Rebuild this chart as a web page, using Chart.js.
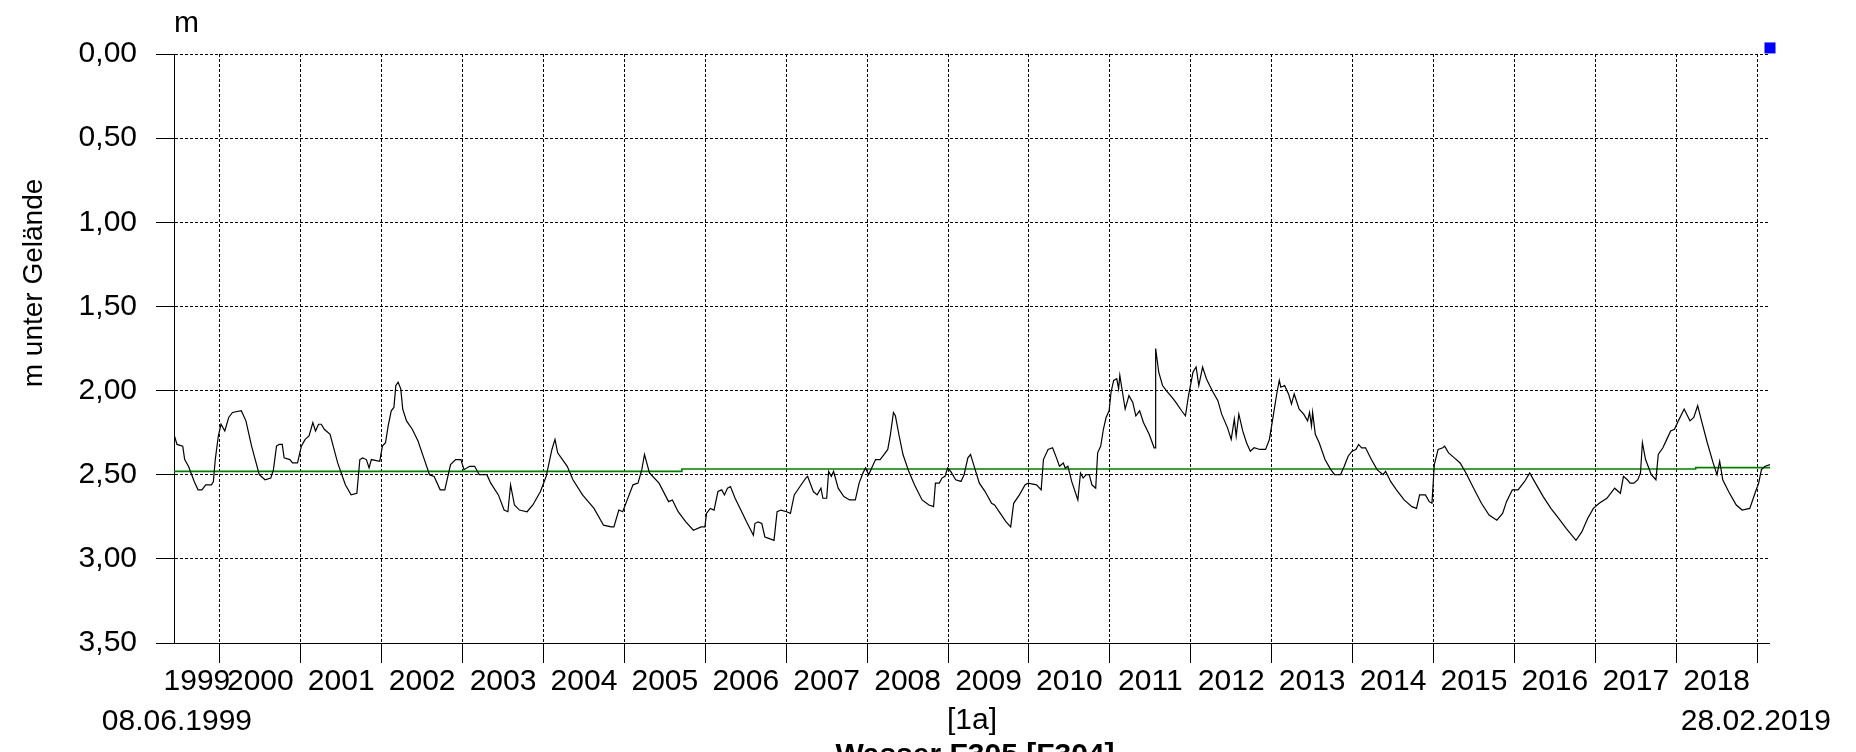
<!DOCTYPE html>
<html>
<head>
<meta charset="utf-8">
<script src="https://cdn.jsdelivr.net/npm/chart.js@4.4.1/dist/chart.umd.min.js"></script>
<style>
  html, body { margin: 0; padding: 0; background: #fff; }
  canvas { display: block; }
</style>
</head>
<body>
<canvas id="c" width="1856" height="752"></canvas>
<script>
// ---- data (time as decimal years, depth in m unter Gelände) ----
const times = [
1999.433,1999.470,1999.541,1999.565,1999.612,1999.683,1999.730,1999.778,1999.825,1999.896,1999.920,1999.943,1999.981,
2000.014,2000.061,2000.109,2000.156,2000.265,2000.322,2000.392,2000.487,2000.558,2000.629,2000.662,2000.700,2000.733,2000.771,2000.794,2000.865,2000.898,2000.960,
2001.007,2001.054,2001.102,2001.149,2001.182,2001.220,2001.253,2001.291,2001.362,2001.456,2001.551,2001.622,2001.693,2001.730,2001.764,2001.811,2001.844,2001.872,2001.976,
2002.009,2002.047,2002.080,2002.118,2002.151,2002.175,2002.203,2002.236,2002.260,2002.307,2002.378,2002.449,2002.520,2002.591,2002.648,2002.723,2002.780,2002.851,2002.913,2002.979,
2003.017,2003.087,2003.149,2003.206,2003.300,2003.348,2003.442,2003.513,2003.560,2003.593,2003.641,2003.702,2003.797,2003.868,2003.962,
2004.033,2004.104,2004.142,2004.175,2004.293,2004.364,2004.482,2004.624,2004.742,2004.837,2004.870,2004.931,2004.979,
2005.026,2005.106,2005.168,2005.215,2005.248,2005.310,2005.428,2005.546,2005.593,2005.664,2005.759,2005.853,2005.948,2005.995,
2006.014,2006.061,2006.108,2006.156,2006.203,2006.236,2006.274,2006.311,2006.368,2006.439,2006.509,2006.594,2006.613,2006.651,2006.698,2006.736,2006.792,2006.849,2006.887,2006.934,
2007.005,2007.052,2007.099,2007.170,2007.241,2007.264,2007.335,2007.382,2007.429,2007.453,2007.500,2007.524,2007.557,2007.585,2007.642,2007.712,2007.783,2007.854,2007.901,2007.948,2007.981,
2008.019,2008.066,2008.104,2008.160,2008.208,2008.255,2008.288,2008.325,2008.349,2008.396,2008.443,2008.514,2008.585,2008.679,2008.764,2008.821,2008.844,2008.892,2008.925,2008.962,2008.995,
2009.033,2009.094,2009.160,2009.198,2009.245,2009.278,2009.316,2009.387,2009.458,2009.538,2009.575,2009.646,2009.717,2009.774,2009.811,2009.882,2009.953,2009.991,
2010.094,2010.151,2010.179,2010.236,2010.292,2010.340,2010.377,2010.425,2010.448,2010.481,2010.528,2010.604,2010.637,2010.670,2010.708,2010.745,2010.778,2010.825,2010.849,2010.887,2010.920,2010.953,2010.991,
2011.014,2011.047,2011.085,2011.108,2011.123,2011.156,2011.189,2011.236,2011.283,2011.321,2011.368,2011.415,2011.486,2011.547,2011.561,2011.566,2011.604,2011.651,2011.698,2011.769,2011.816,2011.887,2011.934,2011.972,
2012.028,2012.066,2012.099,2012.146,2012.193,2012.264,2012.335,2012.382,2012.453,2012.500,2012.538,2012.561,2012.594,2012.642,2012.689,2012.736,2012.783,2012.854,2012.925,2012.972,
2013.019,2013.066,2013.094,2013.113,2013.160,2013.208,2013.245,2013.278,2013.340,2013.396,2013.444,2013.468,2013.492,2013.506,2013.539,2013.587,2013.659,2013.730,2013.778,2013.850,2013.897,2013.945,2013.993,
2014.041,2014.074,2014.112,2014.160,2014.232,2014.303,2014.375,2014.408,2014.470,2014.542,2014.637,2014.733,2014.790,2014.828,2014.900,2014.947,2014.981,
2015.010,2015.057,2015.115,2015.138,2015.186,2015.258,2015.329,2015.401,2015.496,2015.592,2015.687,2015.783,2015.854,2015.902,2015.974,
2016.045,2016.126,2016.189,2016.260,2016.356,2016.451,2016.547,2016.642,2016.761,2016.833,2016.905,2016.976,
2017.048,2017.143,2017.239,2017.310,2017.348,2017.396,2017.430,2017.477,2017.525,2017.558,2017.582,2017.621,2017.692,2017.749,2017.778,2017.835,2017.883,2017.931,2017.979,
2018.026,2018.098,2018.170,2018.217,2018.265,2018.313,2018.384,2018.456,2018.504,2018.537,2018.575,2018.647,2018.742,2018.814,2018.909,2018.981,
2019.019,2019.053,2019.100,2019.159
];
const depths = [
2.26,2.32,2.33,2.41,2.45,2.54,2.59,2.59,2.56,2.56,2.54,2.41,2.27,
2.20,2.24,2.16,2.13,2.12,2.18,2.33,2.50,2.53,2.52,2.47,2.33,2.32,2.32,2.40,2.41,2.43,2.43,
2.33,2.29,2.27,2.19,2.24,2.20,2.20,2.23,2.26,2.43,2.56,2.62,2.61,2.41,2.40,2.41,2.46,2.41,2.42,
2.33,2.31,2.21,2.12,2.10,1.97,1.95,1.99,2.11,2.18,2.23,2.30,2.40,2.50,2.51,2.59,2.59,2.44,2.41,2.41,
2.47,2.45,2.45,2.50,2.50,2.55,2.62,2.71,2.72,2.56,2.68,2.71,2.72,2.68,2.60,
2.51,2.35,2.29,2.37,2.45,2.53,2.62,2.70,2.80,2.81,2.81,2.71,2.72,
2.66,2.56,2.55,2.47,2.38,2.49,2.55,2.66,2.65,2.72,2.78,2.83,2.81,2.81,
2.73,2.70,2.71,2.60,2.59,2.62,2.58,2.57,2.64,2.71,2.78,2.86,2.79,2.78,2.79,2.87,2.88,2.89,2.72,2.71,
2.72,2.73,2.62,2.57,2.52,2.51,2.60,2.62,2.58,2.64,2.64,2.48,2.51,2.48,2.58,2.63,2.65,2.65,2.55,2.49,2.46,
2.50,2.45,2.41,2.41,2.38,2.35,2.26,2.13,2.15,2.27,2.38,2.48,2.56,2.65,2.68,2.69,2.55,2.55,2.52,2.51,2.46,
2.48,2.53,2.54,2.50,2.40,2.38,2.44,2.55,2.60,2.67,2.68,2.73,2.78,2.81,2.67,2.62,2.56,2.55,
2.56,2.59,2.41,2.35,2.34,2.40,2.45,2.43,2.46,2.45,2.54,2.65,2.49,2.52,2.50,2.50,2.56,2.58,2.37,2.33,2.23,2.16,2.12,
2.01,1.94,1.93,1.99,1.91,2.01,2.11,2.03,2.07,2.15,2.12,2.19,2.26,2.34,2.34,1.75,1.89,1.97,2.00,2.04,2.07,2.12,2.15,2.03,
1.89,1.86,1.97,1.86,1.93,2.00,2.06,2.14,2.22,2.29,2.17,2.27,2.14,2.24,2.31,2.36,2.34,2.35,2.35,2.29,
2.15,2.01,1.94,1.98,1.97,2.02,2.08,2.02,2.11,2.14,2.18,2.13,2.21,2.13,2.26,2.31,2.41,2.47,2.50,2.50,2.45,2.39,2.36,
2.35,2.32,2.34,2.34,2.41,2.47,2.50,2.48,2.54,2.59,2.65,2.69,2.70,2.62,2.62,2.66,2.67,
2.44,2.35,2.34,2.33,2.37,2.40,2.43,2.49,2.58,2.67,2.74,2.77,2.73,2.66,2.59,
2.59,2.54,2.49,2.55,2.63,2.70,2.76,2.82,2.89,2.84,2.76,2.70,
2.67,2.64,2.58,2.61,2.51,2.53,2.55,2.55,2.53,2.49,2.31,2.41,2.50,2.53,2.38,2.34,2.29,2.24,2.23,
2.18,2.11,2.18,2.16,2.09,2.18,2.31,2.43,2.50,2.42,2.53,2.60,2.68,2.71,2.70,2.60,
2.55,2.47,2.45,2.44
];
// mean level (green), stepped
const meanTimes  = [1999.433, 2005.71, 2018.24, 2019.159];
const meanDepths = [2.480, 2.466, 2.458, 2.458];
// marker (blue square)
const markerTimes  = [2019.159];
const markerDepths = [-0.036];

// axes
const xStart = 1999.433, xEnd = 2019.159;
const yearBoundaries = [2000,2001,2002,2003,2004,2005,2006,2007,2008,2009,2010,2011,2012,2013,2014,2015,2016,2017,2018,2019];
const yearLabels = ['1999','2000','2001','2002','2003','2004','2005','2006','2007','2008','2009','2010','2011','2012','2013','2014','2015','2016','2017','2018'];
const yTicks = [0, 0.5, 1, 1.5, 2, 2.5, 3, 3.5];
const startLabel = '08.06.1999';
const endLabel = '28.02.2019';
const xTitle = '[1a]';
const yTitle = 'm unter Gelände';
const unitLabel = 'm';
const seriesTitle = 'Wasser F305 [F304]';

// build x ticks: boundaries (grid, no label) + midpoints (label, no grid)
const xTickList = [];
yearLabels.forEach(lbl => {
  const y = parseInt(lbl, 10);
  const a = Math.max(y, xStart), b = Math.min(y + 1, xEnd);
  xTickList.push({ value: (a + b) / 2, text: lbl, boundary: false });
});
yearBoundaries.forEach(y => xTickList.push({ value: y, text: '', boundary: true }));
xTickList.sort((p, q) => p.value - q.value);

const FONT = '"Liberation Sans", Arial, sans-serif';

const textPlugin = {
  id: 'extraTexts',
  afterDraw(chart) {
    const { ctx, chartArea } = chart;
    ctx.save();
    ctx.fillStyle = '#000';
    ctx.font = '30px ' + FONT;
    ctx.textBaseline = 'alphabetic';
    ctx.textAlign = 'left';
    ctx.fillText(unitLabel, chartArea.left, 32);
    ctx.textAlign = 'right';
    ctx.fillText(startLabel, 252, 730);
    ctx.fillText(endLabel, 1831, 730);
    ctx.save();
    ctx.font = '28px ' + FONT;
    ctx.translate(42, 283);
    ctx.rotate(-Math.PI / 2);
    ctx.textAlign = 'center';
    ctx.fillText(yTitle, 0, 0);
    ctx.restore();
    ctx.font = 'bold 30px ' + FONT;
    ctx.textAlign = 'center';
    ctx.fillText(seriesTitle, 975, 764);
    ctx.restore();
  }
};

new Chart(document.getElementById('c'), {
  type: 'line',
  data: {
    datasets: [
      {
        label: 'Messwerte',
        data: times.map((t, i) => ({ x: t, y: depths[i] })),
        borderColor: '#000000',
        borderWidth: 1.2,
        pointRadius: 0,
        tension: 0,
        fill: false
      },
      {
        label: 'Mittel',
        data: meanTimes.map((t, i) => ({ x: t, y: meanDepths[i] })),
        borderColor: '#008000',
        borderWidth: 1.6,
        pointRadius: 0,
        stepped: true,
        fill: false
      },
      {
        label: 'Marker',
        data: markerTimes.map((t, i) => ({ x: t, y: markerDepths[i] })),
        showLine: false,
        pointStyle: 'rect',
        pointRadius: 7.8,
        pointBackgroundColor: '#0000ff',
        pointBorderColor: '#0000ff',
        pointBorderWidth: 0,
        clip: false
      }
    ]
  },
  options: {
    responsive: false,
    maintainAspectRatio: false,
    devicePixelRatio: 1,
    animation: false,
    events: [],
    layout: { padding: { top: 54, right: 86, left: 0, bottom: 0 } },
    plugins: { legend: { display: false }, tooltip: { enabled: false }, title: { display: false } },
    scales: {
      x: {
        type: 'linear',
        position: 'bottom',
        min: xStart,
        max: xEnd,
        afterBuildTicks(scale) {
          scale.ticks = xTickList.map(t => ({ value: t.value }));
        },
        afterFit(scale) { scale.height = 109; },
        ticks: {
          autoSkip: false,
          maxRotation: 0,
          minRotation: 0,
          padding: 1,
          color: '#000',
          font: { family: FONT, size: 30 },
          callback: (v, i) => xTickList[i] ? xTickList[i].text : ''
        },
        grid: {
          color: '#000',
          lineWidth: c => (xTickList[c.index] && xTickList[c.index].boundary) ? 1 : 0,
          tickWidth: c => (xTickList[c.index] && xTickList[c.index].boundary) ? 1 : 0,
          tickColor: '#000',
          tickLength: 20,
          drawTicks: true
        },
        border: { display: true, color: '#000', width: 1, dash: [3, 2] },
        title: {
          display: true,
          text: xTitle,
          color: '#000',
          font: { family: FONT, size: 30 },
          padding: { top: 0, bottom: 13 }
        }
      },
      y: {
        type: 'linear',
        position: 'left',
        reverse: true,
        min: 0,
        max: 3.5,
        afterBuildTicks(scale) {
          scale.ticks = yTicks.map(v => ({ value: v }));
        },
        afterFit(scale) { scale.width = 174; },
        ticks: {
          padding: 19,
          color: '#000',
          font: { family: FONT, size: 30 },
          callback: v => v.toFixed(2).replace('.', ',')
        },
        grid: {
          color: '#000',
          lineWidth: 1,
          tickWidth: 1,
          tickColor: '#000',
          tickLength: 18
        },
        border: { display: true, color: '#000', width: 1, dash: [3, 2] }
      }
    }
  },
  plugins: [textPlugin]
});
</script>
</body>
</html>
